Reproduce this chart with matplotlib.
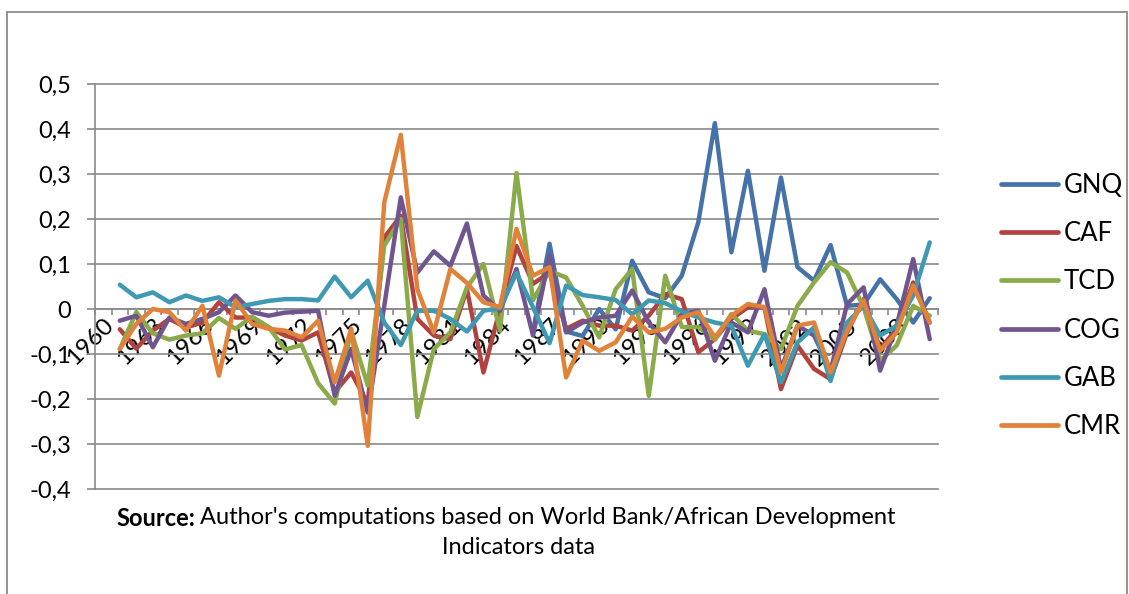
import numpy as np
import matplotlib
matplotlib.use("Agg")
import matplotlib.pyplot as plt
from matplotlib.patches import Rectangle
from matplotlib.ticker import FixedLocator, FuncFormatter

plt.rcParams['font.family'] = ['Lato', 'DejaVu Sans']

nan = np.nan
years = list(range(1960, 2011))
label_years = years[::3]

gnq = [nan] * 26 + [
    -0.050, 0.145, -0.050, -0.060, 0.000, -0.045, 0.107, 0.037, 0.024, 0.074,
    0.193, 0.413, 0.126, 0.307, 0.085, 0.292, 0.093, 0.063, 0.142, 0.007,
    0.010, 0.066, 0.022, -0.030, 0.024]
caf = [nan] + [
    -0.045, -0.088, -0.048, -0.022, -0.041, -0.030, 0.015, -0.019, -0.019, -0.041,
    -0.059, -0.070, -0.052, -0.185, -0.141, -0.210, 0.159, 0.207, -0.022, -0.059,
    -0.067, 0.044, -0.141, 0.000, 0.140, 0.056, 0.081, -0.044, -0.026, -0.037,
    -0.037, -0.048, -0.015, 0.033, 0.022, -0.096, -0.067, -0.022, 0.004, 0.004,
    -0.178, -0.081, -0.133, -0.156, -0.052, 0.022, -0.089, -0.044, 0.059, -0.030]
tcd = [nan] + [
    -0.089, -0.007, -0.054, -0.068, -0.059, -0.054, -0.020, -0.044, -0.017, -0.040,
    -0.090, -0.080, -0.165, -0.210, -0.050, -0.170, 0.141, 0.200, -0.240, -0.089,
    -0.052, 0.048, 0.100, -0.048, 0.302, 0.020, 0.085, 0.070, 0.007, -0.063,
    0.044, 0.089, -0.193, 0.074, -0.040, -0.040, -0.068, -0.011, -0.048, -0.056,
    -0.089, 0.007, 0.059, 0.104, 0.081, 0.004, -0.115, -0.081, 0.007, -0.015]
cog = [nan] + [
    -0.026, -0.015, -0.085, -0.019, -0.033, -0.022, -0.007, 0.030, -0.007, -0.015,
    -0.008, -0.006, -0.004, -0.193, -0.089, -0.230, 0.007, 0.248, 0.081, 0.128,
    0.096, 0.190, 0.030, -0.004, 0.089, -0.059, 0.119, -0.052, -0.030, -0.019,
    -0.015, 0.041, -0.030, -0.074, -0.011, -0.004, -0.115, -0.030, -0.052, 0.044,
    -0.133, -0.037, -0.059, -0.137, 0.011, 0.048, -0.137, -0.037, 0.111, -0.067]
gab = [nan] + [
    0.054, 0.026, 0.037, 0.015, 0.030, 0.018, 0.026, 0.004, 0.011, 0.018,
    0.022, 0.022, 0.019, 0.072, 0.026, 0.063, -0.030, -0.080, -0.004, -0.004,
    -0.022, -0.050, -0.004, 0.002, 0.080, 0.004, -0.076, 0.052, 0.031, 0.026,
    0.020, -0.012, 0.019, 0.013, -0.005, -0.019, -0.030, -0.037, -0.126, -0.056,
    -0.163, -0.074, -0.041, -0.160, -0.030, 0.007, -0.059, -0.037, 0.030, 0.148]
cmr = [nan] + [
    -0.089, -0.033, 0.000, -0.007, -0.048, 0.007, -0.148, 0.019, -0.033, -0.044,
    -0.048, -0.063, -0.026, -0.163, -0.044, -0.304, 0.237, 0.387, 0.044, -0.052,
    0.089, 0.058, 0.015, 0.004, 0.178, 0.074, 0.093, -0.152, -0.070, -0.093,
    -0.074, -0.017, -0.052, -0.044, -0.019, -0.007, -0.063, -0.015, 0.011, 0.004,
    -0.141, -0.037, -0.030, -0.141, -0.048, 0.019, -0.093, -0.052, 0.052, -0.030]

series_names = ['GNQ', 'CAF', 'TCD', 'COG', 'GAB', 'CMR']
series_values = [gnq, caf, tcd, cog, gab, cmr]
series_colors = ['#4572A8', '#B0433F', '#8BAA4A', '#71558F', '#3E9AB3', '#E0823A']
y_ticks = [-0.4, -0.3, -0.2, -0.1, 0.0, 0.1, 0.2, 0.3, 0.4, 0.5]

W, H = 1129, 594
fig = plt.figure(figsize=(W / 100, H / 100), dpi=100)
fig.patch.set_facecolor('white')

ax = fig.add_axes([95 / W, 1 - 489 / H, (938 - 95) / W, (489 - 84) / H])
grid_c = '#8A8A8A'

for name, vals, col in zip(series_names, series_values, series_colors):
    ax.plot(years, vals, color=col, lw=3.2, label=name,
            solid_joinstyle='round', solid_capstyle='round', zorder=3)

ax.set_xlim(1959.5, 2010.5)
ax.set_ylim(-0.4, 0.5)

ax.yaxis.set_major_locator(FixedLocator(y_ticks))
ax.yaxis.set_major_formatter(FuncFormatter(
    lambda v, p: '0' if abs(v) < 1e-9 else ('%.1f' % v).replace('.', ',')))
ax.yaxis.grid(True, color=grid_c, lw=1.2, zorder=1)
for gl in ax.get_ygridlines():
    gl.set_clip_on(False)
ax.tick_params(axis='y', length=6, width=1.2, color=grid_c, pad=11,
               labelsize=17, labelcolor='black')

ax.spines['top'].set_visible(False)
ax.spines['right'].set_visible(False)
ax.spines['left'].set_color(grid_c)
ax.spines['left'].set_linewidth(1.2)
ax.spines['bottom'].set_position(('data', 0))
ax.spines['bottom'].set_color(grid_c)
ax.spines['bottom'].set_linewidth(1.2)
ax.spines['bottom'].set_zorder(2)

ax.xaxis.set_major_locator(FixedLocator(label_years))
ax.xaxis.set_minor_locator(FixedLocator(np.arange(1959.5, 2011, 1.0)))
ax.set_xticklabels([str(y) for y in label_years], rotation=45, ha='right',
                   va='top', rotation_mode='anchor', fontsize=17.5)
ax.tick_params(axis='x', which='major', length=0, pad=4)
ax.tick_params(axis='x', which='minor', length=4, width=1.2, color=grid_c,
               direction='out')

leg = ax.legend(loc='center left', bbox_to_anchor=(1001 / W, 1 - 306 / H),
                bbox_transform=fig.transFigure, frameon=False, fontsize=18.5,
                handlelength=2.2, handletextpad=0.25, labelspacing=0.9,
                borderpad=0, borderaxespad=0)
for ln in leg.get_lines():
    ln.set_linewidth(3.4)
    ln.set_solid_capstyle('round')

# caption
fig.canvas.draw()
r = fig.canvas.get_renderer()
y1 = 1 - 518 / H
t_bold = fig.text(0, y1, 'Source:', fontsize=17, fontweight='bold',
                  ha='left', va='center')
t_rest = fig.text(0, y1, "Author's computations based on World Bank/African Development",
                  fontsize=17, ha='left', va='center')
wb = t_bold.get_window_extent(r).width
wr = t_rest.get_window_extent(r).width
gap = 5
x0 = 506 - (wb + gap + wr) / 2
t_bold.set_x(x0 / W)
t_rest.set_x((x0 + wb + gap) / W)
fig.text(518 / W, 1 - 548 / H, 'Indicators data', fontsize=17,
         ha='center', va='center')

# outer chart border
fig.patches.append(Rectangle((7 / W, -0.05), (1127 - 7) / W, 1.05 - 12 / H,
                             transform=fig.transFigure, fill=False,
                             edgecolor='#8C8C8C', lw=1.3, clip_on=False))

fig.savefig('out.png', dpi=100, facecolor='white')
